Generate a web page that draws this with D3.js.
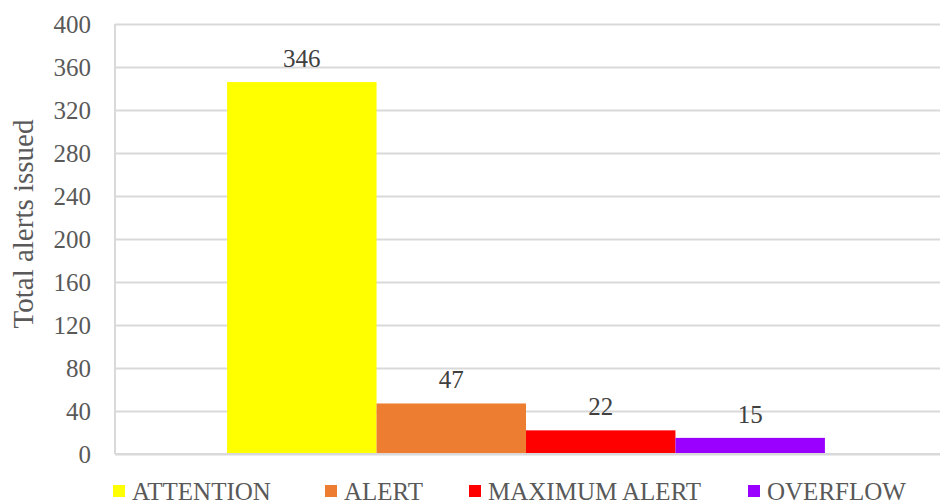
<!DOCTYPE html>
<html>
<head>
<meta charset="utf-8">
<script src="https://cdn.jsdelivr.net/npm/d3@7"></script>
<style>
  body { margin: 0; background: #fff; }
  svg { display: block; }
</style>
</head>
<body>
<script>
// chart data
var categories = ["ATTENTION", "ALERT", "MAXIMUM ALERT", "OVERFLOW"];
var totals = [346, 47, 22, 15];
var colors = ["#FFFF00", "#ED7D31", "#FF0000", "#9900FF"];
var yTicks = [0, 40, 80, 120, 160, 200, 240, 280, 320, 360, 400];

var width = 940,
    height = 503;

var serif = "'Liberation Serif', 'Times New Roman', 'DejaVu Serif', serif";

// plot area (window.top is reserved, so prefixed names)
var plotLeft = 115, plotRight = 937, plotTop = 24, plotBottom = 454;

var svg = d3.select("body")
    .append("svg")
    .attr("width", width)
    .attr("height", height)
    .style("font-family", serif);

var y = d3.scaleLinear()
    .domain([0, 400])
    .range([plotBottom, plotTop]);

var x = d3.scaleBand()
    .domain(categories)
    .range([plotLeft, plotRight])
    .paddingInner(0)
    .paddingOuter(0.75);

// gridlines + y labels
var yAxis = svg.append("g")
    .attr("transform", "translate(" + plotLeft + ",0)")
    .call(d3.axisLeft(y).tickValues(yTicks).tickSize(-(width - plotLeft)).tickPadding(24));

yAxis.attr("font-family", null);
yAxis.select(".domain").remove();
yAxis.selectAll(".tick line")
    .attr("stroke", "#D9D9D9")
    .attr("stroke-width", 2);
yAxis.selectAll(".tick text")
    .style("font-family", serif)
    .attr("font-size", 25)
    .attr("fill", "#595959");

// left axis line
svg.append("line")
    .attr("x1", plotLeft).attr("x2", plotLeft)
    .attr("y1", plotTop).attr("y2", plotBottom)
    .attr("stroke", "#D9D9D9")
    .attr("stroke-width", 2);

// bars
svg.selectAll(".bar")
    .data(categories)
    .enter()
    .append("rect")
    .attr("class", "bar")
    .attr("x", function(d){ return x(d); })
    .attr("width", x.bandwidth())
    .attr("y", function(d, i){ return y(totals[i]); })
    .attr("height", function(d, i){ return y(0) - y(totals[i]); })
    .attr("fill", function(d, i){ return colors[i]; });

// bottom axis line on top of bars
svg.append("line")
    .attr("x1", plotLeft).attr("x2", width)
    .attr("y1", y(0)).attr("y2", y(0))
    .attr("stroke", "#D9D9D9")
    .attr("stroke-width", 2);

// value labels
svg.selectAll(".val")
    .data(categories)
    .enter()
    .append("text")
    .attr("class", "val")
    .attr("x", function(d){ return x(d) + x.bandwidth() / 2; })
    .attr("y", function(d, i){ return y(totals[i]) - 15; })
    .attr("text-anchor", "middle")
    .attr("font-size", 25)
    .attr("fill", "#404040")
    .style("font-family", serif)
    .text(function(d, i){ return totals[i]; });

// y title
svg.append("text")
    .attr("transform", "translate(33,224) rotate(-90)")
    .attr("text-anchor", "middle")
    .attr("font-size", 29)
    .attr("fill", "#595959")
    .style("font-family", serif)
    .text("Total alerts issued");

// legend
var legendX = [113, 325, 469, 748];
var legend = svg.selectAll(".legend")
    .data(categories)
    .enter()
    .append("g")
    .attr("class", "legend")
    .attr("transform", function(d, i){ return "translate(" + legendX[i] + ",485)"; });

legend.append("rect")
    .attr("width", 12)
    .attr("height", 12)
    .attr("fill", function(d, i){ return colors[i]; });

legend.append("text")
    .attr("x", 19)
    .attr("y", 15)
    .attr("font-size", 25)
    .attr("fill", "#595959")
    .style("font-family", serif)
    .text(function(d){ return d; });
</script>
</body>
</html>
